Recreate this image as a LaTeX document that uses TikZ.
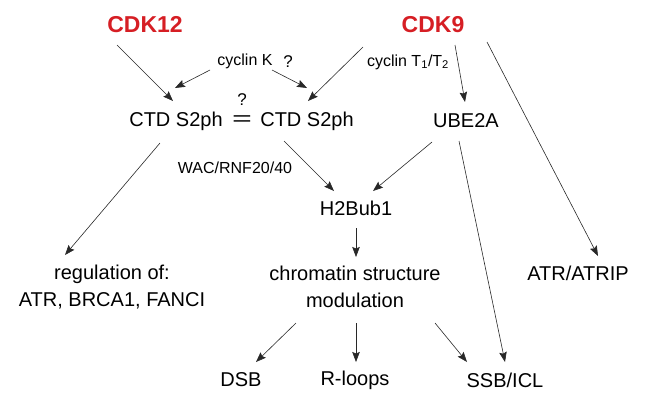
\documentclass[tikz,border=0pt]{standalone}
\usepackage{fontspec}
\usepackage{graphicx}
\setmainfont{Liberation Sans}
\usetikzlibrary{arrows.meta}
\definecolor{cdkred}{RGB}{214,30,36}
\definecolor{linegray}{RGB}{40,40,40}
\begin{document}
\begin{tikzpicture}[x=1pt,y=-1pt,
  lab/.style={inner sep=0pt,font=\fontsize{20}{27}\selectfont,align=center},
  small/.style={inner sep=0pt,font=\fontsize{16}{19}\selectfont},
  kinase/.style={inner sep=0pt,text=cdkred,font=\fontsize{23}{27}\selectfont\bfseries},
  arr/.style={draw=linegray,line width=0.6pt,-{Stealth[length=10pt,width=7.5pt,inset=1.5pt]}}
]
\useasboundingbox (0,0) rectangle (650,408);
% nodes
\node[kinase] (cdk12) at (145,25) {CDK12};
\node[kinase] (cdk9) at (433,25) {CDK9};
\node[small] (cycK) at (245,61) {cyclin K};
\node[small,font=\fontsize{17}{19}\selectfont] (q1) at (288,62) {?};
\node[small] (cycT) at (408,62) {cyclin T\textsubscript{1}/T\textsubscript{2}};
\node[lab] (ctdl) at (176,121) {CTD S2ph};
\node[lab] (eq) at (242,121) {\scalebox{1.7}[1]{=}};
\node[small,font=\fontsize{17}{19}\selectfont] (q2) at (242,100) {?};
\node[lab] (ctdr) at (307,121) {CTD S2ph};
\node[lab] (ube) at (466,121) {UBE2A};
\node[small] (wac) at (235,168) {WAC/RNF20/40};
\node[lab] (h2b) at (356,208) {H2Bub1};
\node[lab] (reg) at (112,287) {regulation of:\\ATR, BRCA1, FANCI};
\node[lab] (chrom) at (355,287) {chromatin structure\\modulation};
\node[lab] (atr) at (578,273) {ATR/ATRIP};
\node[lab] (dsb) at (241,380) {DSB};
\node[lab] (rl) at (355,380) {R-loops};
\node[lab] (ssb) at (505,380) {SSB/ICL};
% connectors
\draw[arr] ([shift={(-28,20)}]cdk12.center) -- ([shift={(-3,-20)}]ctdl.center);
\draw[arr] ([shift={(-35,9)}]cycK.center) -- ([shift={(-1,-33)}]ctdl.center);
\draw[arr] ([shift={(27,9)}]cycK.center) -- ([shift={(0,-33)}]ctdr.center);
\draw[arr] ([shift={(-70,22)}]cdk9.center) -- ([shift={(1,-20)}]ctdr.center);
\draw[arr] ([shift={(22,20)}]cdk9.center) -- ([shift={(-1,-19)}]ube.center);
\draw[arr] ([shift={(54,17)}]cdk9.center) -- ([shift={(20,-17)}]atr.center);
\draw[arr] ([shift={(-16,22)}]ctdl.center) -- ([shift={(-47,-32)}]reg.center);
\draw[arr] ([shift={(-23,20)}]ctdr.center) -- ([shift={(-22,-17)}]h2b.center);
\draw[arr] ([shift={(-34,21)}]ube.center) -- ([shift={(17,-17)}]h2b.center);
\draw[arr] ([shift={(-7,20)}]ube.center) -- ([shift={(0,-18)}]ssb.center);
\draw[arr] ([shift={(0,20)}]h2b.center) -- ([shift={(1,-30)}]chrom.center);
\draw[arr] ([shift={(-59,36)}]chrom.center) -- ([shift={(15,-18)}]dsb.center);
\draw[arr] ([shift={(1,36)}]chrom.center) -- ([shift={(1,-18)}]rl.center);
\draw[arr] ([shift={(80,36)}]chrom.center) -- ([shift={(-38,-18)}]ssb.center);
\end{tikzpicture}
\end{document}
